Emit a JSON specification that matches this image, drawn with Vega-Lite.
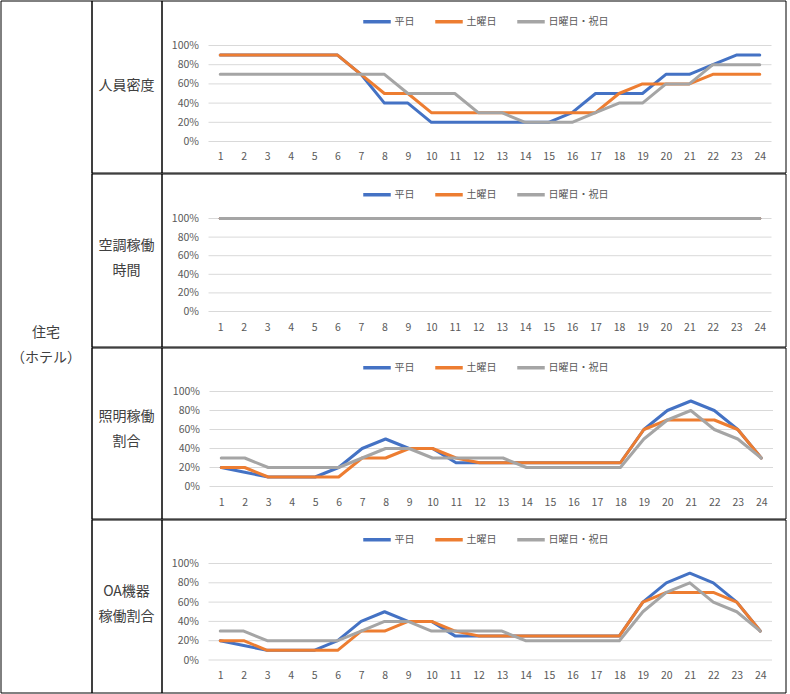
{
  "$schema": "https://vega.github.io/schema/vega-lite/v6.json",
  "padding": {"left": -0.5, "top": -0.5, "right": 3, "bottom": 2},
  "background": "white",
  "config": {
    "font": "Noto Sans CJK JP",
    "view": {"stroke": "#000000", "strokeWidth": 1},
    "axis": {"grid": false, "domain": false, "ticks": false, "tickSize": 0, "labelFont": "Noto Sans CJK JP", "labelFontSize": 10.5, "labelColor": "#595959", "labelFlush": false, "labelOverlap": false},
    "axisX": {"labelBaseline": "middle", "labelPadding": 0},
    "axisY": {"labelPadding": 10},
    "legend": {"orient": "none", "direction": "horizontal", "symbolType": "stroke", "symbolSize": 756, "symbolStrokeWidth": 3.5, "labelFont": "Noto Sans CJK JP", "labelFontSize": 10, "labelColor": "#595959", "labelOffset": 2, "columnPadding": 13, "padding": 0},
    "text": {"font": "Noto Sans CJK JP", "fontSize": 14, "color": "#404040"}
  },
  "datasets": {
    "grid": [{"g": 0}, {"g": 0.2}, {"g": 0.4}, {"g": 0.6}, {"g": 0.8}, {"g": 1}],
    "profile": [
      {"item": "人員密度", "type": "平日", "hour": 1, "rate": 0.9}, {"item": "人員密度", "type": "平日", "hour": 2, "rate": 0.9}, {"item": "人員密度", "type": "平日", "hour": 3, "rate": 0.9}, {"item": "人員密度", "type": "平日", "hour": 4, "rate": 0.9}, {"item": "人員密度", "type": "平日", "hour": 5, "rate": 0.9}, {"item": "人員密度", "type": "平日", "hour": 6, "rate": 0.9}, {"item": "人員密度", "type": "平日", "hour": 7, "rate": 0.7}, {"item": "人員密度", "type": "平日", "hour": 8, "rate": 0.4}, {"item": "人員密度", "type": "平日", "hour": 9, "rate": 0.4}, {"item": "人員密度", "type": "平日", "hour": 10, "rate": 0.2}, {"item": "人員密度", "type": "平日", "hour": 11, "rate": 0.2}, {"item": "人員密度", "type": "平日", "hour": 12, "rate": 0.2}, {"item": "人員密度", "type": "平日", "hour": 13, "rate": 0.2}, {"item": "人員密度", "type": "平日", "hour": 14, "rate": 0.2}, {"item": "人員密度", "type": "平日", "hour": 15, "rate": 0.2}, {"item": "人員密度", "type": "平日", "hour": 16, "rate": 0.3}, {"item": "人員密度", "type": "平日", "hour": 17, "rate": 0.5}, {"item": "人員密度", "type": "平日", "hour": 18, "rate": 0.5}, {"item": "人員密度", "type": "平日", "hour": 19, "rate": 0.5}, {"item": "人員密度", "type": "平日", "hour": 20, "rate": 0.7}, {"item": "人員密度", "type": "平日", "hour": 21, "rate": 0.7}, {"item": "人員密度", "type": "平日", "hour": 22, "rate": 0.8}, {"item": "人員密度", "type": "平日", "hour": 23, "rate": 0.9}, {"item": "人員密度", "type": "平日", "hour": 24, "rate": 0.9},
      {"item": "人員密度", "type": "土曜日", "hour": 1, "rate": 0.9}, {"item": "人員密度", "type": "土曜日", "hour": 2, "rate": 0.9}, {"item": "人員密度", "type": "土曜日", "hour": 3, "rate": 0.9}, {"item": "人員密度", "type": "土曜日", "hour": 4, "rate": 0.9}, {"item": "人員密度", "type": "土曜日", "hour": 5, "rate": 0.9}, {"item": "人員密度", "type": "土曜日", "hour": 6, "rate": 0.9}, {"item": "人員密度", "type": "土曜日", "hour": 7, "rate": 0.7}, {"item": "人員密度", "type": "土曜日", "hour": 8, "rate": 0.5}, {"item": "人員密度", "type": "土曜日", "hour": 9, "rate": 0.5}, {"item": "人員密度", "type": "土曜日", "hour": 10, "rate": 0.3}, {"item": "人員密度", "type": "土曜日", "hour": 11, "rate": 0.3}, {"item": "人員密度", "type": "土曜日", "hour": 12, "rate": 0.3}, {"item": "人員密度", "type": "土曜日", "hour": 13, "rate": 0.3}, {"item": "人員密度", "type": "土曜日", "hour": 14, "rate": 0.3}, {"item": "人員密度", "type": "土曜日", "hour": 15, "rate": 0.3}, {"item": "人員密度", "type": "土曜日", "hour": 16, "rate": 0.3}, {"item": "人員密度", "type": "土曜日", "hour": 17, "rate": 0.3}, {"item": "人員密度", "type": "土曜日", "hour": 18, "rate": 0.5}, {"item": "人員密度", "type": "土曜日", "hour": 19, "rate": 0.6}, {"item": "人員密度", "type": "土曜日", "hour": 20, "rate": 0.6}, {"item": "人員密度", "type": "土曜日", "hour": 21, "rate": 0.6}, {"item": "人員密度", "type": "土曜日", "hour": 22, "rate": 0.7}, {"item": "人員密度", "type": "土曜日", "hour": 23, "rate": 0.7}, {"item": "人員密度", "type": "土曜日", "hour": 24, "rate": 0.7},
      {"item": "人員密度", "type": "日曜日・祝日", "hour": 1, "rate": 0.7}, {"item": "人員密度", "type": "日曜日・祝日", "hour": 2, "rate": 0.7}, {"item": "人員密度", "type": "日曜日・祝日", "hour": 3, "rate": 0.7}, {"item": "人員密度", "type": "日曜日・祝日", "hour": 4, "rate": 0.7}, {"item": "人員密度", "type": "日曜日・祝日", "hour": 5, "rate": 0.7}, {"item": "人員密度", "type": "日曜日・祝日", "hour": 6, "rate": 0.7}, {"item": "人員密度", "type": "日曜日・祝日", "hour": 7, "rate": 0.7}, {"item": "人員密度", "type": "日曜日・祝日", "hour": 8, "rate": 0.7}, {"item": "人員密度", "type": "日曜日・祝日", "hour": 9, "rate": 0.5}, {"item": "人員密度", "type": "日曜日・祝日", "hour": 10, "rate": 0.5}, {"item": "人員密度", "type": "日曜日・祝日", "hour": 11, "rate": 0.5}, {"item": "人員密度", "type": "日曜日・祝日", "hour": 12, "rate": 0.3}, {"item": "人員密度", "type": "日曜日・祝日", "hour": 13, "rate": 0.3}, {"item": "人員密度", "type": "日曜日・祝日", "hour": 14, "rate": 0.2}, {"item": "人員密度", "type": "日曜日・祝日", "hour": 15, "rate": 0.2}, {"item": "人員密度", "type": "日曜日・祝日", "hour": 16, "rate": 0.2}, {"item": "人員密度", "type": "日曜日・祝日", "hour": 17, "rate": 0.3}, {"item": "人員密度", "type": "日曜日・祝日", "hour": 18, "rate": 0.4}, {"item": "人員密度", "type": "日曜日・祝日", "hour": 19, "rate": 0.4}, {"item": "人員密度", "type": "日曜日・祝日", "hour": 20, "rate": 0.6}, {"item": "人員密度", "type": "日曜日・祝日", "hour": 21, "rate": 0.6}, {"item": "人員密度", "type": "日曜日・祝日", "hour": 22, "rate": 0.8}, {"item": "人員密度", "type": "日曜日・祝日", "hour": 23, "rate": 0.8}, {"item": "人員密度", "type": "日曜日・祝日", "hour": 24, "rate": 0.8},

      {"item": "空調稼働時間", "type": "平日", "hour": 1, "rate": 1}, {"item": "空調稼働時間", "type": "平日", "hour": 2, "rate": 1}, {"item": "空調稼働時間", "type": "平日", "hour": 3, "rate": 1}, {"item": "空調稼働時間", "type": "平日", "hour": 4, "rate": 1}, {"item": "空調稼働時間", "type": "平日", "hour": 5, "rate": 1}, {"item": "空調稼働時間", "type": "平日", "hour": 6, "rate": 1}, {"item": "空調稼働時間", "type": "平日", "hour": 7, "rate": 1}, {"item": "空調稼働時間", "type": "平日", "hour": 8, "rate": 1}, {"item": "空調稼働時間", "type": "平日", "hour": 9, "rate": 1}, {"item": "空調稼働時間", "type": "平日", "hour": 10, "rate": 1}, {"item": "空調稼働時間", "type": "平日", "hour": 11, "rate": 1}, {"item": "空調稼働時間", "type": "平日", "hour": 12, "rate": 1}, {"item": "空調稼働時間", "type": "平日", "hour": 13, "rate": 1}, {"item": "空調稼働時間", "type": "平日", "hour": 14, "rate": 1}, {"item": "空調稼働時間", "type": "平日", "hour": 15, "rate": 1}, {"item": "空調稼働時間", "type": "平日", "hour": 16, "rate": 1}, {"item": "空調稼働時間", "type": "平日", "hour": 17, "rate": 1}, {"item": "空調稼働時間", "type": "平日", "hour": 18, "rate": 1}, {"item": "空調稼働時間", "type": "平日", "hour": 19, "rate": 1}, {"item": "空調稼働時間", "type": "平日", "hour": 20, "rate": 1}, {"item": "空調稼働時間", "type": "平日", "hour": 21, "rate": 1}, {"item": "空調稼働時間", "type": "平日", "hour": 22, "rate": 1}, {"item": "空調稼働時間", "type": "平日", "hour": 23, "rate": 1}, {"item": "空調稼働時間", "type": "平日", "hour": 24, "rate": 1},
      {"item": "空調稼働時間", "type": "土曜日", "hour": 1, "rate": 1}, {"item": "空調稼働時間", "type": "土曜日", "hour": 2, "rate": 1}, {"item": "空調稼働時間", "type": "土曜日", "hour": 3, "rate": 1}, {"item": "空調稼働時間", "type": "土曜日", "hour": 4, "rate": 1}, {"item": "空調稼働時間", "type": "土曜日", "hour": 5, "rate": 1}, {"item": "空調稼働時間", "type": "土曜日", "hour": 6, "rate": 1}, {"item": "空調稼働時間", "type": "土曜日", "hour": 7, "rate": 1}, {"item": "空調稼働時間", "type": "土曜日", "hour": 8, "rate": 1}, {"item": "空調稼働時間", "type": "土曜日", "hour": 9, "rate": 1}, {"item": "空調稼働時間", "type": "土曜日", "hour": 10, "rate": 1}, {"item": "空調稼働時間", "type": "土曜日", "hour": 11, "rate": 1}, {"item": "空調稼働時間", "type": "土曜日", "hour": 12, "rate": 1}, {"item": "空調稼働時間", "type": "土曜日", "hour": 13, "rate": 1}, {"item": "空調稼働時間", "type": "土曜日", "hour": 14, "rate": 1}, {"item": "空調稼働時間", "type": "土曜日", "hour": 15, "rate": 1}, {"item": "空調稼働時間", "type": "土曜日", "hour": 16, "rate": 1}, {"item": "空調稼働時間", "type": "土曜日", "hour": 17, "rate": 1}, {"item": "空調稼働時間", "type": "土曜日", "hour": 18, "rate": 1}, {"item": "空調稼働時間", "type": "土曜日", "hour": 19, "rate": 1}, {"item": "空調稼働時間", "type": "土曜日", "hour": 20, "rate": 1}, {"item": "空調稼働時間", "type": "土曜日", "hour": 21, "rate": 1}, {"item": "空調稼働時間", "type": "土曜日", "hour": 22, "rate": 1}, {"item": "空調稼働時間", "type": "土曜日", "hour": 23, "rate": 1}, {"item": "空調稼働時間", "type": "土曜日", "hour": 24, "rate": 1},
      {"item": "空調稼働時間", "type": "日曜日・祝日", "hour": 1, "rate": 1}, {"item": "空調稼働時間", "type": "日曜日・祝日", "hour": 2, "rate": 1}, {"item": "空調稼働時間", "type": "日曜日・祝日", "hour": 3, "rate": 1}, {"item": "空調稼働時間", "type": "日曜日・祝日", "hour": 4, "rate": 1}, {"item": "空調稼働時間", "type": "日曜日・祝日", "hour": 5, "rate": 1}, {"item": "空調稼働時間", "type": "日曜日・祝日", "hour": 6, "rate": 1}, {"item": "空調稼働時間", "type": "日曜日・祝日", "hour": 7, "rate": 1}, {"item": "空調稼働時間", "type": "日曜日・祝日", "hour": 8, "rate": 1}, {"item": "空調稼働時間", "type": "日曜日・祝日", "hour": 9, "rate": 1}, {"item": "空調稼働時間", "type": "日曜日・祝日", "hour": 10, "rate": 1}, {"item": "空調稼働時間", "type": "日曜日・祝日", "hour": 11, "rate": 1}, {"item": "空調稼働時間", "type": "日曜日・祝日", "hour": 12, "rate": 1}, {"item": "空調稼働時間", "type": "日曜日・祝日", "hour": 13, "rate": 1}, {"item": "空調稼働時間", "type": "日曜日・祝日", "hour": 14, "rate": 1}, {"item": "空調稼働時間", "type": "日曜日・祝日", "hour": 15, "rate": 1}, {"item": "空調稼働時間", "type": "日曜日・祝日", "hour": 16, "rate": 1}, {"item": "空調稼働時間", "type": "日曜日・祝日", "hour": 17, "rate": 1}, {"item": "空調稼働時間", "type": "日曜日・祝日", "hour": 18, "rate": 1}, {"item": "空調稼働時間", "type": "日曜日・祝日", "hour": 19, "rate": 1}, {"item": "空調稼働時間", "type": "日曜日・祝日", "hour": 20, "rate": 1}, {"item": "空調稼働時間", "type": "日曜日・祝日", "hour": 21, "rate": 1}, {"item": "空調稼働時間", "type": "日曜日・祝日", "hour": 22, "rate": 1}, {"item": "空調稼働時間", "type": "日曜日・祝日", "hour": 23, "rate": 1}, {"item": "空調稼働時間", "type": "日曜日・祝日", "hour": 24, "rate": 1},

      {"item": "照明稼働割合", "type": "平日", "hour": 1, "rate": 0.2}, {"item": "照明稼働割合", "type": "平日", "hour": 2, "rate": 0.15}, {"item": "照明稼働割合", "type": "平日", "hour": 3, "rate": 0.1}, {"item": "照明稼働割合", "type": "平日", "hour": 4, "rate": 0.1}, {"item": "照明稼働割合", "type": "平日", "hour": 5, "rate": 0.1}, {"item": "照明稼働割合", "type": "平日", "hour": 6, "rate": 0.2}, {"item": "照明稼働割合", "type": "平日", "hour": 7, "rate": 0.4}, {"item": "照明稼働割合", "type": "平日", "hour": 8, "rate": 0.5}, {"item": "照明稼働割合", "type": "平日", "hour": 9, "rate": 0.4}, {"item": "照明稼働割合", "type": "平日", "hour": 10, "rate": 0.4}, {"item": "照明稼働割合", "type": "平日", "hour": 11, "rate": 0.25}, {"item": "照明稼働割合", "type": "平日", "hour": 12, "rate": 0.25}, {"item": "照明稼働割合", "type": "平日", "hour": 13, "rate": 0.25}, {"item": "照明稼働割合", "type": "平日", "hour": 14, "rate": 0.25}, {"item": "照明稼働割合", "type": "平日", "hour": 15, "rate": 0.25}, {"item": "照明稼働割合", "type": "平日", "hour": 16, "rate": 0.25}, {"item": "照明稼働割合", "type": "平日", "hour": 17, "rate": 0.25}, {"item": "照明稼働割合", "type": "平日", "hour": 18, "rate": 0.25}, {"item": "照明稼働割合", "type": "平日", "hour": 19, "rate": 0.6}, {"item": "照明稼働割合", "type": "平日", "hour": 20, "rate": 0.8}, {"item": "照明稼働割合", "type": "平日", "hour": 21, "rate": 0.9}, {"item": "照明稼働割合", "type": "平日", "hour": 22, "rate": 0.8}, {"item": "照明稼働割合", "type": "平日", "hour": 23, "rate": 0.6}, {"item": "照明稼働割合", "type": "平日", "hour": 24, "rate": 0.3},
      {"item": "照明稼働割合", "type": "土曜日", "hour": 1, "rate": 0.2}, {"item": "照明稼働割合", "type": "土曜日", "hour": 2, "rate": 0.2}, {"item": "照明稼働割合", "type": "土曜日", "hour": 3, "rate": 0.1}, {"item": "照明稼働割合", "type": "土曜日", "hour": 4, "rate": 0.1}, {"item": "照明稼働割合", "type": "土曜日", "hour": 5, "rate": 0.1}, {"item": "照明稼働割合", "type": "土曜日", "hour": 6, "rate": 0.1}, {"item": "照明稼働割合", "type": "土曜日", "hour": 7, "rate": 0.3}, {"item": "照明稼働割合", "type": "土曜日", "hour": 8, "rate": 0.3}, {"item": "照明稼働割合", "type": "土曜日", "hour": 9, "rate": 0.4}, {"item": "照明稼働割合", "type": "土曜日", "hour": 10, "rate": 0.4}, {"item": "照明稼働割合", "type": "土曜日", "hour": 11, "rate": 0.3}, {"item": "照明稼働割合", "type": "土曜日", "hour": 12, "rate": 0.25}, {"item": "照明稼働割合", "type": "土曜日", "hour": 13, "rate": 0.25}, {"item": "照明稼働割合", "type": "土曜日", "hour": 14, "rate": 0.25}, {"item": "照明稼働割合", "type": "土曜日", "hour": 15, "rate": 0.25}, {"item": "照明稼働割合", "type": "土曜日", "hour": 16, "rate": 0.25}, {"item": "照明稼働割合", "type": "土曜日", "hour": 17, "rate": 0.25}, {"item": "照明稼働割合", "type": "土曜日", "hour": 18, "rate": 0.25}, {"item": "照明稼働割合", "type": "土曜日", "hour": 19, "rate": 0.6}, {"item": "照明稼働割合", "type": "土曜日", "hour": 20, "rate": 0.7}, {"item": "照明稼働割合", "type": "土曜日", "hour": 21, "rate": 0.7}, {"item": "照明稼働割合", "type": "土曜日", "hour": 22, "rate": 0.7}, {"item": "照明稼働割合", "type": "土曜日", "hour": 23, "rate": 0.6}, {"item": "照明稼働割合", "type": "土曜日", "hour": 24, "rate": 0.3},
      {"item": "照明稼働割合", "type": "日曜日・祝日", "hour": 1, "rate": 0.3}, {"item": "照明稼働割合", "type": "日曜日・祝日", "hour": 2, "rate": 0.3}, {"item": "照明稼働割合", "type": "日曜日・祝日", "hour": 3, "rate": 0.2}, {"item": "照明稼働割合", "type": "日曜日・祝日", "hour": 4, "rate": 0.2}, {"item": "照明稼働割合", "type": "日曜日・祝日", "hour": 5, "rate": 0.2}, {"item": "照明稼働割合", "type": "日曜日・祝日", "hour": 6, "rate": 0.2}, {"item": "照明稼働割合", "type": "日曜日・祝日", "hour": 7, "rate": 0.3}, {"item": "照明稼働割合", "type": "日曜日・祝日", "hour": 8, "rate": 0.4}, {"item": "照明稼働割合", "type": "日曜日・祝日", "hour": 9, "rate": 0.4}, {"item": "照明稼働割合", "type": "日曜日・祝日", "hour": 10, "rate": 0.3}, {"item": "照明稼働割合", "type": "日曜日・祝日", "hour": 11, "rate": 0.3}, {"item": "照明稼働割合", "type": "日曜日・祝日", "hour": 12, "rate": 0.3}, {"item": "照明稼働割合", "type": "日曜日・祝日", "hour": 13, "rate": 0.3}, {"item": "照明稼働割合", "type": "日曜日・祝日", "hour": 14, "rate": 0.2}, {"item": "照明稼働割合", "type": "日曜日・祝日", "hour": 15, "rate": 0.2}, {"item": "照明稼働割合", "type": "日曜日・祝日", "hour": 16, "rate": 0.2}, {"item": "照明稼働割合", "type": "日曜日・祝日", "hour": 17, "rate": 0.2}, {"item": "照明稼働割合", "type": "日曜日・祝日", "hour": 18, "rate": 0.2}, {"item": "照明稼働割合", "type": "日曜日・祝日", "hour": 19, "rate": 0.5}, {"item": "照明稼働割合", "type": "日曜日・祝日", "hour": 20, "rate": 0.7}, {"item": "照明稼働割合", "type": "日曜日・祝日", "hour": 21, "rate": 0.8}, {"item": "照明稼働割合", "type": "日曜日・祝日", "hour": 22, "rate": 0.6}, {"item": "照明稼働割合", "type": "日曜日・祝日", "hour": 23, "rate": 0.5}, {"item": "照明稼働割合", "type": "日曜日・祝日", "hour": 24, "rate": 0.3},

      {"item": "OA機器稼働割合", "type": "平日", "hour": 1, "rate": 0.2}, {"item": "OA機器稼働割合", "type": "平日", "hour": 2, "rate": 0.15}, {"item": "OA機器稼働割合", "type": "平日", "hour": 3, "rate": 0.1}, {"item": "OA機器稼働割合", "type": "平日", "hour": 4, "rate": 0.1}, {"item": "OA機器稼働割合", "type": "平日", "hour": 5, "rate": 0.1}, {"item": "OA機器稼働割合", "type": "平日", "hour": 6, "rate": 0.2}, {"item": "OA機器稼働割合", "type": "平日", "hour": 7, "rate": 0.4}, {"item": "OA機器稼働割合", "type": "平日", "hour": 8, "rate": 0.5}, {"item": "OA機器稼働割合", "type": "平日", "hour": 9, "rate": 0.4}, {"item": "OA機器稼働割合", "type": "平日", "hour": 10, "rate": 0.4}, {"item": "OA機器稼働割合", "type": "平日", "hour": 11, "rate": 0.25}, {"item": "OA機器稼働割合", "type": "平日", "hour": 12, "rate": 0.25}, {"item": "OA機器稼働割合", "type": "平日", "hour": 13, "rate": 0.25}, {"item": "OA機器稼働割合", "type": "平日", "hour": 14, "rate": 0.25}, {"item": "OA機器稼働割合", "type": "平日", "hour": 15, "rate": 0.25}, {"item": "OA機器稼働割合", "type": "平日", "hour": 16, "rate": 0.25}, {"item": "OA機器稼働割合", "type": "平日", "hour": 17, "rate": 0.25}, {"item": "OA機器稼働割合", "type": "平日", "hour": 18, "rate": 0.25}, {"item": "OA機器稼働割合", "type": "平日", "hour": 19, "rate": 0.6}, {"item": "OA機器稼働割合", "type": "平日", "hour": 20, "rate": 0.8}, {"item": "OA機器稼働割合", "type": "平日", "hour": 21, "rate": 0.9}, {"item": "OA機器稼働割合", "type": "平日", "hour": 22, "rate": 0.8}, {"item": "OA機器稼働割合", "type": "平日", "hour": 23, "rate": 0.6}, {"item": "OA機器稼働割合", "type": "平日", "hour": 24, "rate": 0.3},
      {"item": "OA機器稼働割合", "type": "土曜日", "hour": 1, "rate": 0.2}, {"item": "OA機器稼働割合", "type": "土曜日", "hour": 2, "rate": 0.2}, {"item": "OA機器稼働割合", "type": "土曜日", "hour": 3, "rate": 0.1}, {"item": "OA機器稼働割合", "type": "土曜日", "hour": 4, "rate": 0.1}, {"item": "OA機器稼働割合", "type": "土曜日", "hour": 5, "rate": 0.1}, {"item": "OA機器稼働割合", "type": "土曜日", "hour": 6, "rate": 0.1}, {"item": "OA機器稼働割合", "type": "土曜日", "hour": 7, "rate": 0.3}, {"item": "OA機器稼働割合", "type": "土曜日", "hour": 8, "rate": 0.3}, {"item": "OA機器稼働割合", "type": "土曜日", "hour": 9, "rate": 0.4}, {"item": "OA機器稼働割合", "type": "土曜日", "hour": 10, "rate": 0.4}, {"item": "OA機器稼働割合", "type": "土曜日", "hour": 11, "rate": 0.3}, {"item": "OA機器稼働割合", "type": "土曜日", "hour": 12, "rate": 0.25}, {"item": "OA機器稼働割合", "type": "土曜日", "hour": 13, "rate": 0.25}, {"item": "OA機器稼働割合", "type": "土曜日", "hour": 14, "rate": 0.25}, {"item": "OA機器稼働割合", "type": "土曜日", "hour": 15, "rate": 0.25}, {"item": "OA機器稼働割合", "type": "土曜日", "hour": 16, "rate": 0.25}, {"item": "OA機器稼働割合", "type": "土曜日", "hour": 17, "rate": 0.25}, {"item": "OA機器稼働割合", "type": "土曜日", "hour": 18, "rate": 0.25}, {"item": "OA機器稼働割合", "type": "土曜日", "hour": 19, "rate": 0.6}, {"item": "OA機器稼働割合", "type": "土曜日", "hour": 20, "rate": 0.7}, {"item": "OA機器稼働割合", "type": "土曜日", "hour": 21, "rate": 0.7}, {"item": "OA機器稼働割合", "type": "土曜日", "hour": 22, "rate": 0.7}, {"item": "OA機器稼働割合", "type": "土曜日", "hour": 23, "rate": 0.6}, {"item": "OA機器稼働割合", "type": "土曜日", "hour": 24, "rate": 0.3},
      {"item": "OA機器稼働割合", "type": "日曜日・祝日", "hour": 1, "rate": 0.3}, {"item": "OA機器稼働割合", "type": "日曜日・祝日", "hour": 2, "rate": 0.3}, {"item": "OA機器稼働割合", "type": "日曜日・祝日", "hour": 3, "rate": 0.2}, {"item": "OA機器稼働割合", "type": "日曜日・祝日", "hour": 4, "rate": 0.2}, {"item": "OA機器稼働割合", "type": "日曜日・祝日", "hour": 5, "rate": 0.2}, {"item": "OA機器稼働割合", "type": "日曜日・祝日", "hour": 6, "rate": 0.2}, {"item": "OA機器稼働割合", "type": "日曜日・祝日", "hour": 7, "rate": 0.3}, {"item": "OA機器稼働割合", "type": "日曜日・祝日", "hour": 8, "rate": 0.4}, {"item": "OA機器稼働割合", "type": "日曜日・祝日", "hour": 9, "rate": 0.4}, {"item": "OA機器稼働割合", "type": "日曜日・祝日", "hour": 10, "rate": 0.3}, {"item": "OA機器稼働割合", "type": "日曜日・祝日", "hour": 11, "rate": 0.3}, {"item": "OA機器稼働割合", "type": "日曜日・祝日", "hour": 12, "rate": 0.3}, {"item": "OA機器稼働割合", "type": "日曜日・祝日", "hour": 13, "rate": 0.3}, {"item": "OA機器稼働割合", "type": "日曜日・祝日", "hour": 14, "rate": 0.2}, {"item": "OA機器稼働割合", "type": "日曜日・祝日", "hour": 15, "rate": 0.2}, {"item": "OA機器稼働割合", "type": "日曜日・祝日", "hour": 16, "rate": 0.2}, {"item": "OA機器稼働割合", "type": "日曜日・祝日", "hour": 17, "rate": 0.2}, {"item": "OA機器稼働割合", "type": "日曜日・祝日", "hour": 18, "rate": 0.2}, {"item": "OA機器稼働割合", "type": "日曜日・祝日", "hour": 19, "rate": 0.5}, {"item": "OA機器稼働割合", "type": "日曜日・祝日", "hour": 20, "rate": 0.7}, {"item": "OA機器稼働割合", "type": "日曜日・祝日", "hour": 21, "rate": 0.8}, {"item": "OA機器稼働割合", "type": "日曜日・祝日", "hour": 22, "rate": 0.6}, {"item": "OA機器稼働割合", "type": "日曜日・祝日", "hour": 23, "rate": 0.5}, {"item": "OA機器稼働割合", "type": "日曜日・祝日", "hour": 24, "rate": 0.3}
    ]
  },
  "spacing": 0,
  "bounds": "flush",
  "resolve": {"scale": {"color": "independent"}, "legend": {"color": "independent"}},
  "hconcat": [
    {
      "width": 91, "height": 692,
      "data": {"values": [{"name": "住宅\n（ホテル）"}]},
      "mark": {"type": "text", "lineBreak": "\n", "lineHeight": 24.6, "dy": -13.5},
      "encoding": {
        "x": {"datum": 1, "type": "quantitative", "scale": {"domain": [0, 2]}, "axis": null},
        "y": {"datum": 1, "type": "quantitative", "scale": {"domain": [0, 2]}, "axis": null},
        "text": {"field": "name"}}
    },
    {
      "spacing": -3,
      "resolve": {"scale": {"color": "independent"}, "legend": {"color": "independent"}},
      "vconcat": [
        {
          "spacing": 0, "bounds": "flush",
          "resolve": {"scale": {"color": "independent"}, "legend": {"color": "independent"}},
          "hconcat": [
            {"width": 70, "height": 172, "data": {"values": [{"name": "人員密度"}]}, "mark": {"type": "text", "lineBreak": "\n", "lineHeight": 25, "dy": -1},
             "encoding": {
               "x": {"datum": 1, "type": "quantitative", "scale": {"domain": [0, 2]}, "axis": null},
               "y": {"datum": 1, "type": "quantitative", "scale": {"domain": [0, 2]}, "axis": null},
               "text": {"field": "name"}}},
            {
              "width": 624, "height": 172,
              "layer": [
                {"data": {"name": "grid"}, "mark": {"type": "rule", "color": "#d9d9d9", "strokeWidth": 1},
                 "encoding": {
                   "x": {"datum": 0.5, "type": "quantitative", "scale": {"domain": [0.5, 24.5], "range": [47, 610], "nice": false, "zero": false}, "axis": {"title": null, "values": [1,2,3,4,5,6,7,8,9,10,11,12,13,14,15,16,17,18,19,20,21,22,23,24], "format": "d", "offset": -16}},
                   "x2": {"datum": 24.5},
                   "y": {"field": "g", "type": "quantitative", "scale": {"domain": [0, 1], "range": [141, 45], "nice": false, "zero": false}, "axis": {"title": null, "values": [0, 0.2, 0.4, 0.6, 0.8, 1], "format": ".0%", "offset": -47}}}},
                {"data": {"name": "profile"}, "transform": [{"filter": {"field": "item", "equal": "人員密度"}}],
                 "mark": {"type": "line", "strokeWidth": 3, "strokeJoin": "round", "strokeCap": "round"},
                 "encoding": {
                   "x": {"field": "hour", "type": "quantitative", "axis": {"title": null, "values": [1,2,3,4,5,6,7,8,9,10,11,12,13,14,15,16,17,18,19,20,21,22,23,24], "format": "d", "offset": -16}},
                   "y": {"field": "rate", "type": "quantitative", "axis": {"title": null, "values": [0, 0.2, 0.4, 0.6, 0.8, 1], "format": ".0%", "offset": -47}},
                   "color": {"field": "type", "type": "nominal", "scale": {"domain": ["平日", "土曜日", "日曜日・祝日"], "range": ["#4472C4", "#ED7D31", "#A5A5A5"]}, "legend": {"title": null, "legendX": 200, "legendY": 5.5}}}}
              ]
            }
          ]
        },
        {
          "spacing": 0, "bounds": "flush",
          "resolve": {"scale": {"color": "independent"}, "legend": {"color": "independent"}},
          "hconcat": [
            {"width": 70, "height": 173, "data": {"values": [{"name": "空調稼働\n時間"}]}, "mark": {"type": "text", "lineBreak": "\n", "lineHeight": 25, "dy": -14.5},
             "encoding": {
               "x": {"datum": 1, "type": "quantitative", "scale": {"domain": [0, 2]}, "axis": null},
               "y": {"datum": 1, "type": "quantitative", "scale": {"domain": [0, 2]}, "axis": null},
               "text": {"field": "name"}}},
            {
              "width": 624, "height": 173,
              "layer": [
                {"data": {"name": "grid"}, "mark": {"type": "rule", "color": "#d9d9d9", "strokeWidth": 1},
                 "encoding": {
                   "x": {"datum": 0.5, "type": "quantitative", "scale": {"domain": [0.5, 24.5], "range": [47, 610], "nice": false, "zero": false}, "axis": {"title": null, "values": [1,2,3,4,5,6,7,8,9,10,11,12,13,14,15,16,17,18,19,20,21,22,23,24], "format": "d", "offset": -19.5}},
                   "x2": {"datum": 24.5},
                   "y": {"field": "g", "type": "quantitative", "scale": {"domain": [0, 1], "range": [138, 45], "nice": false, "zero": false}, "axis": {"title": null, "values": [0, 0.2, 0.4, 0.6, 0.8, 1], "format": ".0%", "offset": -47}}}},
                {"data": {"name": "profile"}, "transform": [{"filter": {"field": "item", "equal": "空調稼働時間"}}],
                 "mark": {"type": "line", "strokeWidth": 3, "strokeJoin": "round", "strokeCap": "round"},
                 "encoding": {
                   "x": {"field": "hour", "type": "quantitative", "axis": {"title": null, "values": [1,2,3,4,5,6,7,8,9,10,11,12,13,14,15,16,17,18,19,20,21,22,23,24], "format": "d", "offset": -19.5}},
                   "y": {"field": "rate", "type": "quantitative", "axis": {"title": null, "values": [0, 0.2, 0.4, 0.6, 0.8, 1], "format": ".0%", "offset": -47}},
                   "color": {"field": "type", "type": "nominal", "scale": {"domain": ["平日", "土曜日", "日曜日・祝日"], "range": ["#4472C4", "#ED7D31", "#A5A5A5"]}, "legend": {"title": null, "legendX": 200, "legendY": 5.5}}}}
              ]
            }
          ]
        },
        {
          "spacing": 0, "bounds": "flush",
          "resolve": {"scale": {"color": "independent"}, "legend": {"color": "independent"}},
          "hconcat": [
            {"width": 70, "height": 171, "data": {"values": [{"name": "照明稼働\n割合"}]}, "mark": {"type": "text", "lineBreak": "\n", "lineHeight": 25, "dy": -16},
             "encoding": {
               "x": {"datum": 1, "type": "quantitative", "scale": {"domain": [0, 2]}, "axis": null},
               "y": {"datum": 1, "type": "quantitative", "scale": {"domain": [0, 2]}, "axis": null},
               "text": {"field": "name"}}},
            {
              "width": 624, "height": 171,
              "layer": [
                {"data": {"name": "grid"}, "mark": {"type": "rule", "color": "#d9d9d9", "strokeWidth": 1},
                 "encoding": {
                   "x": {"datum": 0.5, "type": "quantitative", "scale": {"domain": [0.5, 24.5], "range": [48, 611.5], "nice": false, "zero": false}, "axis": {"title": null, "values": [1,2,3,4,5,6,7,8,9,10,11,12,13,14,15,16,17,18,19,20,21,22,23,24], "format": "d", "offset": -16.5}},
                   "x2": {"datum": 24.5},
                   "y": {"field": "g", "type": "quantitative", "scale": {"domain": [0, 1], "range": [139, 44], "nice": false, "zero": false}, "axis": {"title": null, "values": [0, 0.2, 0.4, 0.6, 0.8, 1], "format": ".0%", "offset": -48}}}},
                {"data": {"name": "profile"}, "transform": [{"filter": {"field": "item", "equal": "照明稼働割合"}}],
                 "mark": {"type": "line", "strokeWidth": 3, "strokeJoin": "round", "strokeCap": "round"},
                 "encoding": {
                   "x": {"field": "hour", "type": "quantitative", "axis": {"title": null, "values": [1,2,3,4,5,6,7,8,9,10,11,12,13,14,15,16,17,18,19,20,21,22,23,24], "format": "d", "offset": -16.5}},
                   "y": {"field": "rate", "type": "quantitative", "axis": {"title": null, "values": [0, 0.2, 0.4, 0.6, 0.8, 1], "format": ".0%", "offset": -48}},
                   "color": {"field": "type", "type": "nominal", "scale": {"domain": ["平日", "土曜日", "日曜日・祝日"], "range": ["#4472C4", "#ED7D31", "#A5A5A5"]}, "legend": {"title": null, "legendX": 200, "legendY": 4.5}}}}
              ]
            }
          ]
        },
        {
          "spacing": 0, "bounds": "flush",
          "resolve": {"scale": {"color": "independent"}, "legend": {"color": "independent"}},
          "hconcat": [
            {"width": 70, "height": 173, "data": {"values": [{"name": "OA機器\n稼働割合"}]}, "mark": {"type": "text", "lineBreak": "\n", "lineHeight": 25, "dy": -14},
             "encoding": {
               "x": {"datum": 1, "type": "quantitative", "scale": {"domain": [0, 2]}, "axis": null},
               "y": {"datum": 1, "type": "quantitative", "scale": {"domain": [0, 2]}, "axis": null},
               "text": {"field": "name"}}},
            {
              "width": 624, "height": 173,
              "layer": [
                {"data": {"name": "grid"}, "mark": {"type": "rule", "color": "#d9d9d9", "strokeWidth": 1},
                 "encoding": {
                   "x": {"datum": 0.5, "type": "quantitative", "scale": {"domain": [0.5, 24.5], "range": [47, 610.5], "nice": false, "zero": false}, "axis": {"title": null, "values": [1,2,3,4,5,6,7,8,9,10,11,12,13,14,15,16,17,18,19,20,21,22,23,24], "format": "d", "offset": -16.8}},
                   "x2": {"datum": 24.5},
                   "y": {"field": "g", "type": "quantitative", "scale": {"domain": [0, 1], "range": [140.5, 44], "nice": false, "zero": false}, "axis": {"title": null, "values": [0, 0.2, 0.4, 0.6, 0.8, 1], "format": ".0%", "offset": -47}}}},
                {"data": {"name": "profile"}, "transform": [{"filter": {"field": "item", "equal": "OA機器稼働割合"}}],
                 "mark": {"type": "line", "strokeWidth": 3, "strokeJoin": "round", "strokeCap": "round"},
                 "encoding": {
                   "x": {"field": "hour", "type": "quantitative", "axis": {"title": null, "values": [1,2,3,4,5,6,7,8,9,10,11,12,13,14,15,16,17,18,19,20,21,22,23,24], "format": "d", "offset": -16.8}},
                   "y": {"field": "rate", "type": "quantitative", "axis": {"title": null, "values": [0, 0.2, 0.4, 0.6, 0.8, 1], "format": ".0%", "offset": -47}},
                   "color": {"field": "type", "type": "nominal", "scale": {"domain": ["平日", "土曜日", "日曜日・祝日"], "range": ["#4472C4", "#ED7D31", "#A5A5A5"]}, "legend": {"title": null, "legendX": 200, "legendY": 4.5}}}}
              ]
            }
          ]
        }
      ]
    }
  ]
}
